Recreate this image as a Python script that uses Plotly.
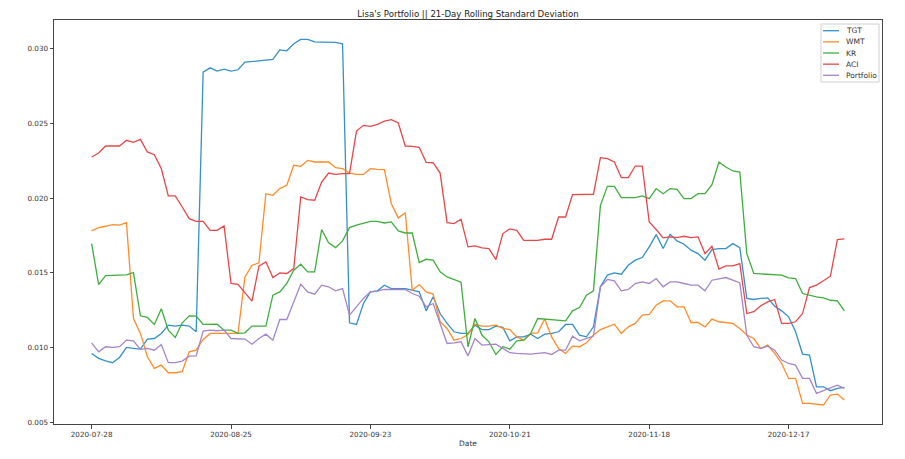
import pandas as pd
import plotly.graph_objects as go

# jours de bourse du 28/07/2020 au 30/12/2020 (hors jours fériés NYSE)
holidays = ['2020-09-07', '2020-11-26', '2020-12-25']
dates = [d.strftime('%Y-%m-%d') for d in pd.bdate_range('2020-07-28', '2020-12-30') if d.strftime('%Y-%m-%d') not in holidays]

tgt = [0.00961, 0.00928, 0.00912, 0.00899, 0.00934, 0.01001, 0.00995, 0.00990, 0.01057, 0.01061,
       0.01095, 0.01150, 0.01144, 0.01150, 0.01144, 0.01106, 0.02843, 0.02872, 0.02850, 0.02863,
       0.02850, 0.02859, 0.02910, 0.02915, 0.02917, 0.02926, 0.02928, 0.02992, 0.02986, 0.03033,
       0.03062, 0.03062, 0.03046, 0.03044, 0.03042, 0.03042, 0.03033, 0.01166, 0.01155, 0.01295,
       0.01373, 0.01380, 0.01418, 0.01395, 0.01395, 0.01395, 0.01384, 0.01373, 0.01246, 0.01340,
       0.01228, 0.01162, 0.01106, 0.01095, 0.01095, 0.01150, 0.01121, 0.01121, 0.01144, 0.01135,
       0.01046, 0.01072, 0.01072, 0.01090, 0.01061, 0.01090, 0.01095, 0.01106, 0.01155, 0.01155,
       0.01084, 0.01072, 0.01139, 0.01407, 0.01485, 0.01500, 0.01491, 0.01551, 0.01585, 0.01603,
       0.01674, 0.01756, 0.01663, 0.01758, 0.01714, 0.01692, 0.01652, 0.01629, 0.01585, 0.01656,
       0.01663, 0.01663, 0.01696, 0.01669, 0.01329, 0.01322, 0.01329, 0.01333, 0.01277, 0.01246,
       0.01206, 0.01106, 0.00957, 0.00950, 0.00738, 0.00738, 0.00712, 0.00727, 0.00734]

wmt = [0.01781, 0.01803, 0.01812, 0.01823, 0.01819, 0.01836, 0.01195, 0.01095, 0.00939, 0.00861,
       0.00883, 0.00832, 0.00832, 0.00839, 0.00972, 0.00983, 0.01055, 0.01095, 0.01095, 0.01095,
       0.01095, 0.01095, 0.01473, 0.01551, 0.01567, 0.02030, 0.02019, 0.02064, 0.02086, 0.02220,
       0.02213, 0.02253, 0.02242, 0.02242, 0.02242, 0.02204, 0.02197, 0.02168, 0.02159, 0.02159,
       0.02197, 0.02193, 0.02191, 0.01963, 0.01868, 0.01903, 0.01384, 0.01422, 0.01373, 0.01358,
       0.01173, 0.01128, 0.01050, 0.01061, 0.01088, 0.01157, 0.01144, 0.01144, 0.01150, 0.01128,
       0.01121, 0.01072, 0.01050, 0.01095, 0.01099, 0.01191, 0.01072, 0.00994, 0.00961, 0.01010,
       0.01006, 0.01032, 0.01084, 0.01121, 0.01139, 0.01157, 0.01095, 0.01139, 0.01162, 0.01217,
       0.01222, 0.01284, 0.01313, 0.01313, 0.01273, 0.01273, 0.01168, 0.01168, 0.01139, 0.01191,
       0.01173, 0.01166, 0.01162, 0.01128, 0.01084, 0.01061, 0.00994, 0.01017, 0.00961, 0.00894,
       0.00794, 0.00794, 0.00627, 0.00627, 0.00620, 0.00616, 0.00683, 0.00689, 0.00649]

kr = [0.01696, 0.01422, 0.01482, 0.01482, 0.01485, 0.01487, 0.01502, 0.01213, 0.01202, 0.01155,
      0.01260, 0.01117, 0.01068, 0.01166, 0.01213, 0.01211, 0.01155, 0.01157, 0.01157, 0.01117,
      0.01117, 0.01095, 0.01099, 0.01144, 0.01144, 0.01144, 0.01351, 0.01373, 0.01429, 0.01518,
      0.01558, 0.01507, 0.01507, 0.01790, 0.01701, 0.01669, 0.01714, 0.01803, 0.01819, 0.01834,
      0.01845, 0.01845, 0.01834, 0.01841, 0.01781, 0.01767, 0.01767, 0.01569, 0.01591, 0.01585,
      0.01507, 0.01473, 0.01456, 0.01438, 0.01006, 0.01195, 0.01084, 0.01039, 0.00954, 0.01006,
      0.00990, 0.01046, 0.01050, 0.01095, 0.01195, 0.01191, 0.01188, 0.01184, 0.01179, 0.01246,
      0.01268, 0.01351, 0.01380, 0.01952, 0.02079, 0.02079, 0.02004, 0.02004, 0.02004, 0.02015,
      0.01997, 0.02064, 0.02030, 0.02064, 0.02059, 0.01997, 0.01997, 0.02030, 0.02030, 0.02090,
      0.02242, 0.02208, 0.02182, 0.02175, 0.01629, 0.01496, 0.01493, 0.01491, 0.01489, 0.01485,
      0.01467, 0.01462, 0.01362, 0.01349, 0.01340, 0.01333, 0.01317, 0.01313, 0.01246]

aci = [0.02275, 0.02302, 0.02349, 0.02349, 0.02349, 0.02387, 0.02373, 0.02393, 0.02309, 0.02291,
       0.02197, 0.02015, 0.02015, 0.01941, 0.01863, 0.01845, 0.01845, 0.01785, 0.01785, 0.01814,
       0.01429, 0.01424, 0.01366, 0.01311, 0.01545, 0.01574, 0.01469, 0.01500, 0.01496, 0.01529,
       0.02008, 0.01990, 0.01986, 0.02108, 0.02168, 0.02159, 0.02164, 0.02164, 0.02449, 0.02487,
       0.02480, 0.02494, 0.02516, 0.02525, 0.02503, 0.02349, 0.02347, 0.02340, 0.02240, 0.02237,
       0.02168, 0.01836, 0.01830, 0.01859, 0.01674, 0.01681, 0.01667, 0.01663, 0.01589, 0.01763,
       0.01794, 0.01785, 0.01718, 0.01718, 0.01718, 0.01725, 0.01725, 0.01874, 0.01874, 0.02024,
       0.02024, 0.02024, 0.02026, 0.02271, 0.02264, 0.02242, 0.02137, 0.02137, 0.02215, 0.02215,
       0.01841, 0.01790, 0.01734, 0.01741, 0.01736, 0.01745, 0.01736, 0.01741, 0.01629, 0.01678,
       0.01525, 0.01547, 0.01547, 0.01562, 0.01228, 0.01240, 0.01280, 0.01306, 0.01322, 0.01162,
       0.01162, 0.01173, 0.01228, 0.01402, 0.01418, 0.01447, 0.01478, 0.01723, 0.01727]

portfolio = [0.01032, 0.00972, 0.01006, 0.01001, 0.01006, 0.01050, 0.01046, 0.00988, 0.00995, 0.00983,
             0.01021, 0.00899, 0.00899, 0.00910, 0.00943, 0.00945, 0.01110, 0.01117, 0.01113, 0.01117,
             0.01061, 0.01059, 0.01057, 0.01023, 0.01061, 0.01090, 0.01050, 0.01188, 0.01188, 0.01306,
             0.01424, 0.01373, 0.01358, 0.01418, 0.01407, 0.01380, 0.01395, 0.01217, 0.01273, 0.01329,
             0.01373, 0.01378, 0.01389, 0.01389, 0.01389, 0.01389, 0.01362, 0.01344, 0.01273, 0.01295,
             0.01162, 0.01028, 0.01032, 0.01039, 0.00945, 0.01061, 0.01017, 0.01021, 0.01023, 0.00995,
             0.00966, 0.00961, 0.00957, 0.00957, 0.00961, 0.00966, 0.00954, 0.00983, 0.00983, 0.01077,
             0.01046, 0.01061, 0.01077, 0.01407, 0.01456, 0.01447, 0.01380, 0.01389, 0.01429, 0.01440,
             0.01429, 0.01462, 0.01407, 0.01440, 0.01440, 0.01429, 0.01418, 0.01418, 0.01380, 0.01451,
             0.01458, 0.01469, 0.01451, 0.01433, 0.01084, 0.01006, 0.00995, 0.01010, 0.00983, 0.00917,
             0.00894, 0.00883, 0.00794, 0.00794, 0.00694, 0.00712, 0.00727, 0.00749, 0.00727]

series = {'TGT': tgt, 'WMT': wmt, 'KR': kr, 'ACI': aci, 'Portfolio': portfolio}
colors = ['#3590c8', '#ff8c2a', '#3fae3f', '#e5484a', '#a485c8']

y_ticks = [0.005, 0.010, 0.015, 0.020, 0.025, 0.030]

fig = go.Figure()
for (name, vals), c in zip(series.items(), colors):
    fig.add_trace(go.Scatter(x=dates, y=vals, mode='lines', name=name,
                             line=dict(color=c, width=1.3)))

# légende compacte façon matplotlib (celle de plotly est trop espacée)
legend_shapes = [dict(type='rect', xref='paper', yref='paper', x0=0.9263, x1=0.9964,
                      y0=0.8465, y1=0.990, line=dict(color='#d0d0d0', width=1),
                      fillcolor='white', layer='above')]
legend_notes = []
for k, (name, c) in enumerate(zip(series.keys(), colors)):
    yk = 0.9735 - k * 0.0276
    legend_shapes.append(dict(type='line', xref='paper', yref='paper', x0=0.9287, x1=0.9481,
                              y0=yk, y1=yk, line=dict(color=c, width=1.3), layer='above'))
    legend_notes.append(dict(text=name, xref='paper', yref='paper', x=0.9541, y=yk,
                             xanchor='left', yanchor='middle', showarrow=False,
                             font=dict(size=7.5, color='#333')))

axis_style = dict(showline=True, mirror=True, linecolor='#444', linewidth=1,
                  ticks='outside', ticklen=3.5, tickcolor='#444', showgrid=False,
                  zeroline=False, tickfont=dict(size=7.2, color='#333'))

# la page html ajoute 8px de marge au body : on compense ici
fig.update_layout(
    width=897, height=451,
    margin=dict(l=46, r=23, t=12, b=35),
    paper_bgcolor='white', plot_bgcolor='white',
    font=dict(family='DejaVu Sans', color='#333'),
    title=dict(text="Lisa's Portfolio || 21-Day Rolling Standard Deviation",
               x=0.5, xref='paper', y=1 - 5.5 / 451, yref='container',
               xanchor='center', yanchor='middle', font=dict(size=8.6, color='#222')),
    showlegend=False,
    shapes=legend_shapes,
    annotations=legend_notes,
)
fig.update_xaxes(type='category', range=[-5.4, 113.4], tickvals=dates[::20],
                 title=dict(text='Date', font=dict(size=7.5, color='#333'), standoff=2),
                 **axis_style)
fig.update_yaxes(range=[0.00489, 0.03192], tickvals=y_ticks, tickformat='.3f', **axis_style)

fig.write_html("out.html")
